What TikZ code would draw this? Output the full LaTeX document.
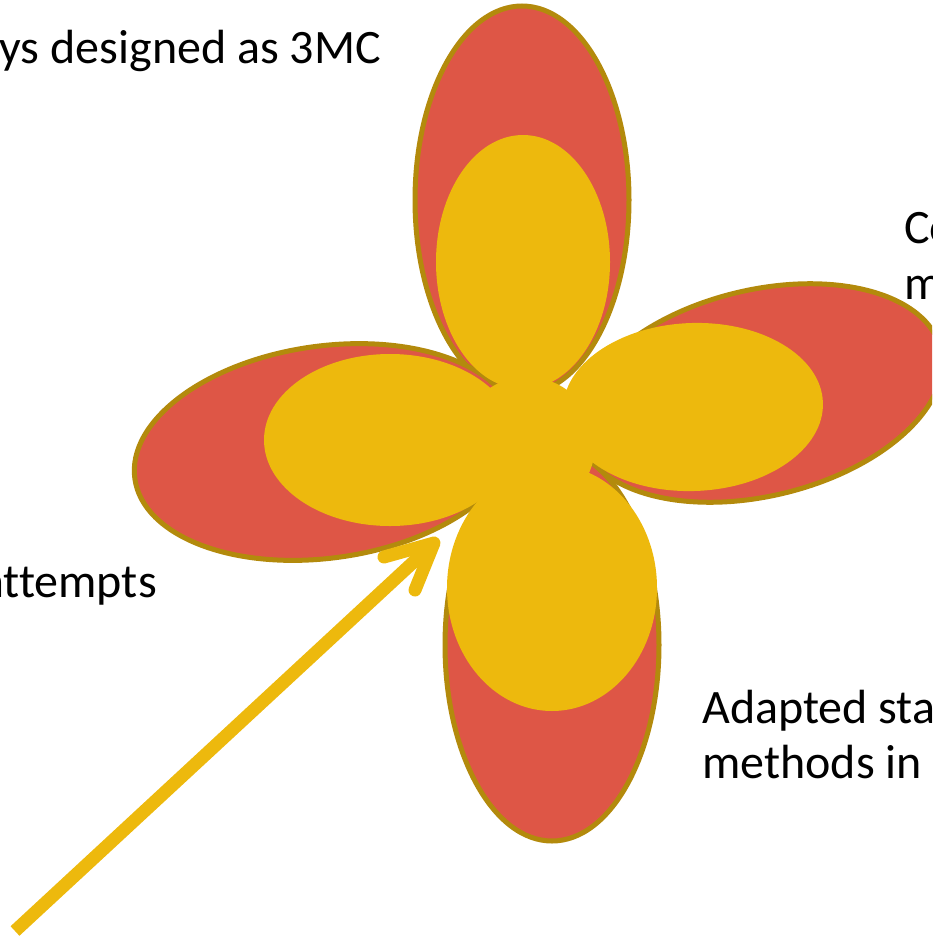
\documentclass[tikz,border=0pt]{standalone}
\usepackage{fontspec}
\setmainfont{Carlito}[Ligatures=NoCommon]
\definecolor{petalred}{HTML}{DE5646}
\definecolor{petalyel}{HTML}{EDB90D}
\definecolor{petalrim}{HTML}{B38A0C}
\begin{document}
\begin{tikzpicture}[x=1pt,y=-1pt,
  redpetal/.style={fill=petalred,draw=petalrim,line width=5pt},
  yelpetal/.style={fill=petalyel},
  lbl/.style={inner sep=0pt,font=\fontsize{48}{56}\selectfont,text=black},
  shaft/.style={draw=petalyel,line width=13pt,line cap=butt},
  barb/.style={draw=petalyel,line width=13pt,line cap=round,line join=round}]
\useasboundingbox (0,0) rectangle (932,937);
\clip (0,0) rectangle (932,937);
% outer red petals
\draw[redpetal] (522,200) ellipse [x radius=107pt, y radius=194pt];
\draw[redpetal, rotate around={8:(326,452)}] (326,452) ellipse [x radius=193pt, y radius=106pt];
\draw[redpetal, rotate around={13.6:(760,393)}] (760,393) ellipse [x radius=186pt, y radius=103pt];
\draw[redpetal] (552,645) ellipse [x radius=107pt, y radius=196pt];
% inner yellow petals
\fill[yelpetal] (523,262) ellipse [x radius=87pt, y radius=127pt];
\fill[yelpetal] (390,440) ellipse [x radius=126pt, y radius=86pt];
\fill[yelpetal, rotate around={2:(693,407)}] (693,407) ellipse [x radius=130pt, y radius=84pt];
\fill[yelpetal] (552,588) ellipse [x radius=105pt, y radius=123pt];
\fill[yelpetal] (527,445) circle [radius=68pt];
% arrow
\coordinate (tail) at (15,931);
\coordinate (tip) at (434,543);
\coordinate (barbA) at (384,557);
\coordinate (barbB) at (415,590);
\draw[shaft] (tail) -- (tip);
\draw[barb] (barbA) -- (tip) -- (barbB);
% labels
\node[lbl, anchor=base east] (l1) at (381,63) {ys designed as 3MC};
\node[lbl, anchor=base west] (l2) at (904,243) {Co};
\node[lbl, anchor=base west] (l3) at (904,299) {m};
\node[lbl, anchor=base east] (l4) at (157,597) {attempts};
\node[lbl, anchor=base west] (l5) at (702,723) {Adapted sta};
\node[lbl, anchor=base west] (l6) at (702,778) {methods in};
\end{tikzpicture}
\end{document}
